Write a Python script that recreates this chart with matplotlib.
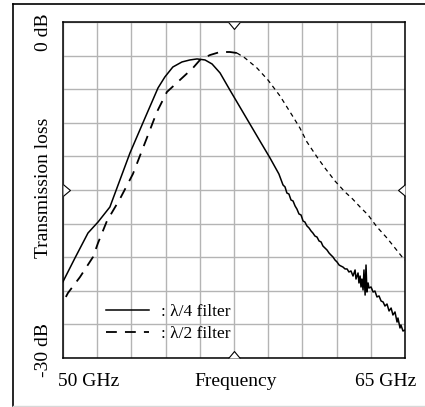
import matplotlib.pyplot as plt
from matplotlib.lines import Line2D
import numpy as np

plt.rcParams['font.family'] = ['Liberation Serif', 'DejaVu Serif']

# lambda/4 filter (GHz, dB)
f4 = [50.0, 50.53, 51.10, 51.54, 52.06, 52.50, 52.94, 53.60, 54.17, 54.47, 54.82,
      55.22, 55.57, 55.88, 56.23, 56.54, 56.89, 57.32, 57.76, 58.20, 58.64, 59.08,
      59.47, 59.65, 59.74, 59.82, 59.91, 60.00, 60.09, 60.18, 60.26, 60.35, 60.44,
      60.53, 60.61, 60.70, 60.79, 60.88, 60.96, 61.05, 61.14, 61.23, 61.32, 61.40,
      61.49, 61.58, 61.67, 61.75, 61.84, 61.93, 62.02, 62.11, 62.19, 62.28, 62.37,
      62.46, 62.54, 62.63, 62.72, 62.81, 62.85, 62.94, 62.98, 63.03, 63.07, 63.11,
      63.16, 63.20, 63.25, 63.29, 63.33, 63.38, 63.42, 63.51, 63.60, 63.68, 63.77,
      63.86, 63.95, 64.04, 64.12, 64.21, 64.30, 64.39, 64.47, 64.56, 64.65, 64.69,
      64.78, 64.82, 64.91, 65.0]
loss4 = [-23.2, -21.07, -18.84, -17.86, -16.52, -14.11, -11.70, -8.57, -5.89, -4.91, -4.02,
         -3.57, -3.39, -3.30, -3.39, -3.75, -4.55, -6.07, -7.59, -9.11, -10.63, -12.14,
         -13.57, -14.55, -14.73, -15.27, -15.36, -15.89, -15.98, -16.43, -16.70, -17.14, -17.23,
         -17.77, -17.86, -18.21, -18.39, -18.66, -18.84, -19.11, -19.20, -19.55, -19.64, -20.00,
         -20.18, -20.36, -20.63, -20.80, -20.98, -21.25, -21.43, -21.70, -21.79, -21.88, -22.05,
         -22.05, -22.32, -22.23, -22.68, -22.14, -22.95, -22.41, -23.30, -22.68, -23.66, -22.95,
         -23.93, -22.14, -24.38, -21.70, -24.11, -23.30, -23.75, -23.66, -24.11, -24.02, -24.55,
         -24.46, -24.91, -25.00, -25.36, -25.18, -25.80, -25.54, -26.16, -25.89, -26.79, -26.43,
         -27.32, -27.05, -27.59, -27.50]

# lambda/2 filter, rising side and falling side
f2a = [50.13, 50.22, 50.75, 51.32, 51.54, 51.93, 52.50, 53.07, 53.68, 54.12, 54.56,
       55.13, 55.70, 56.01, 56.45, 56.89, 57.32, 57.63]
loss2a = [-24.55, -24.20, -22.77, -20.98, -19.73, -17.77, -15.80, -13.57, -10.36, -8.04, -6.25,
          -5.18, -4.11, -3.39, -2.95, -2.68, -2.68, -2.77]
f2b = [57.63, 57.98, 58.51, 58.99, 59.52, 60.04, 60.39, 60.70, 61.14, 61.49, 61.93,
       62.37, 62.70, 63.03, 63.38, 63.77, 64.21, 64.56, 64.91, 65.0]
loss2b = [-2.77, -3.21, -4.11, -5.18, -6.61, -8.30, -9.46, -10.71, -12.05, -13.04, -14.20,
          -15.18, -15.80, -16.52, -17.23, -18.30, -19.29, -20.18, -21.07, -21.25]

fig = plt.figure(figsize=(4.25, 4.07), dpi=100)
ax = fig.add_axes([0.148, 0.1204, 0.805, 0.8256])

ax.set_xlim(50, 65)
ax.set_ylim(-30, 0)
ax.set_xticks(np.linspace(50, 65, 11))
ax.set_yticks(np.linspace(-30, 0, 11))
ax.tick_params(length=0, labelbottom=False, labelleft=False)
ax.grid(True, color='#b4b4b4', lw=1.0)
ax.set_axisbelow(True)
for s in ax.spines.values():
    s.set_linewidth(1.1)
    s.set_color('black')

ax.plot(f4, loss4, color='black', lw=1.1, label=': \u03bb/4 filter')
ax.plot(f2a, loss2a, color='black', lw=1.3, dashes=(6, 4.5), label=': \u03bb/2 filter')
ax.plot(f2b, loss2b, color='black', lw=0.9, dashes=(3.5, 3))

# centre markers on the frame
tri = [(-1, 0), (0, -1.2), (1, 0)]
kw = dict(transform=ax.transAxes, clip_on=False, mfc='white', mec='black',
          mew=0.8, ms=10, zorder=5, ls='none')
ax.plot([0.5], [1.0], marker=tri, **kw)
ax.plot([0.5], [0.0], marker=[(x, -y) for x, y in tri], **kw)
ax.plot([0.0], [0.5], marker=[(-y, x) for x, y in tri], **kw)
ax.plot([1.0], [0.5], marker=[(y, x) for x, y in tri], **kw)

ax.legend(loc='lower left', bbox_to_anchor=(0.09, 0.012), frameon=False,
          fontsize=12.5, handlelength=2.5, handletextpad=0.7, labelspacing=0.3,
          borderpad=0.2)

fs = 14
fig.text(0.209, 0.0516, '50 GHz', ha='center', va='baseline', fontsize=fs)
fig.text(0.555, 0.0516, 'Frequency', ha='center', va='baseline', fontsize=fs)
fig.text(0.908, 0.0516, '65 GHz', ha='center', va='baseline', fontsize=fs)
fig.text(0.103, 0.921, '0 dB', ha='center', va='center', rotation=90, fontsize=fs)
fig.text(0.103, 0.538, 'Transmission loss', ha='center', va='center', rotation=90, fontsize=fs)
fig.text(0.103, 0.14, '-30 dB', ha='center', va='center', rotation=90, fontsize=fs)

# outer frame
fig.add_artist(Line2D([13 / 425, 13 / 425], [0.003, 1 - 4 / 407], color='black', lw=1.2))
fig.add_artist(Line2D([13 / 425, 1.0], [1 - 4 / 407, 1 - 4 / 407], color='black', lw=1.2))
fig.add_artist(Line2D([13 / 425, 1.0], [0.003, 0.003], color='#d8d8d8', lw=1.0))

fig.savefig('out.png', dpi=100)
